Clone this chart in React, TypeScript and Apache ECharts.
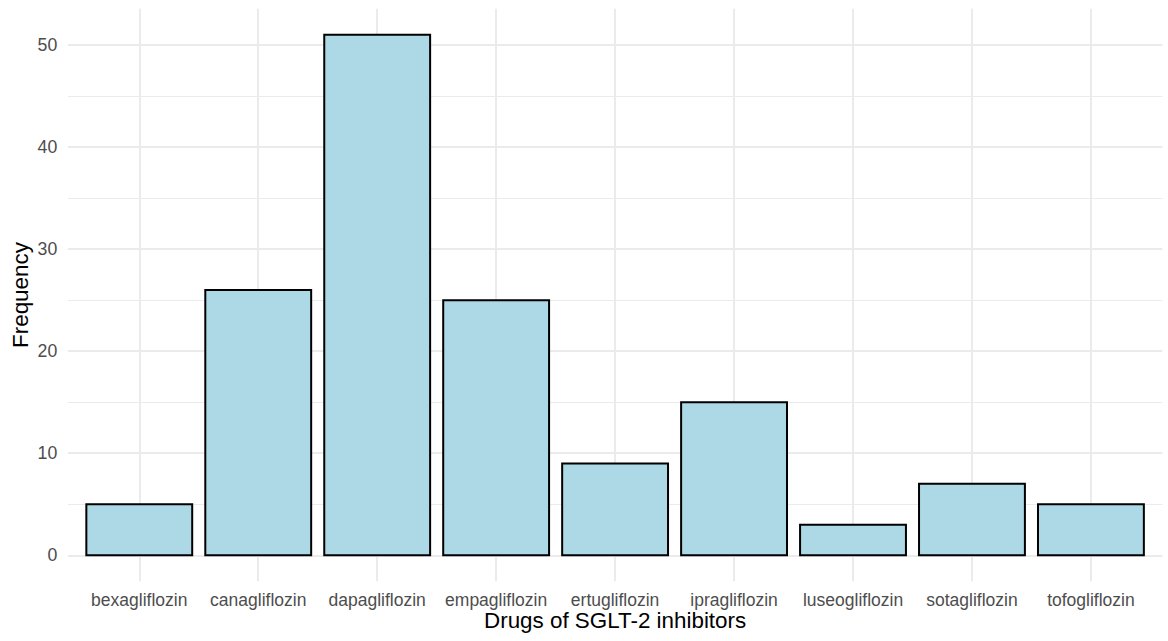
import React, { useEffect, useRef } from "react";
import * as echarts from "echarts";

const categories = [
  "bexagliflozin",
  "canagliflozin",
  "dapagliflozin",
  "empagliflozin",
  "ertugliflozin",
  "ipragliflozin",
  "luseogliflozin",
  "sotagliflozin",
  "tofogliflozin",
];
const frequencies = [5, 26, 51, 25, 9, 15, 3, 7, 5];
const yMin = -2.55;
const yMax = 53.55;
const xMin = -0.6;
const xMax = 8.6;

const GRID = "#EBEBEB";
const NONE = "rgba(0,0,0,0)";
const FONT = "'Liberation Sans', Arial, sans-serif";
const BAR_HALF = 0.445;

export default function App() {
  const ref = useRef<HTMLDivElement>(null);
  useEffect(() => {
    if (!ref.current) return;
    const chart = echarts.init(ref.current, null, { renderer: "svg" });
    const majorColors = [NONE, GRID, GRID, GRID, GRID, GRID, GRID, NONE];
    const minorColors = [NONE, NONE, GRID, NONE, GRID, NONE, GRID, NONE, GRID, NONE, GRID, NONE, NONE];
    const xColors = [NONE, GRID, GRID, GRID, GRID, GRID, GRID, GRID, GRID, GRID, NONE];
    const isInt = (v: number) => Math.abs(v - Math.round(v)) < 1e-9;
    chart.setOption({
      animation: false,
      textStyle: { fontFamily: FONT },
      grid: {
        left: 67.9,
        top: 8.8,
        width: 1094.4,
        height: 572.5,
        containLabel: false,
        outerBoundsMode: "none",
      },
      xAxis: {
        type: "value",
        min: xMin,
        max: xMax,
        minInterval: 1,
        maxInterval: 1,
        axisLine: { show: false },
        axisTick: { show: false },
        axisLabel: {
          color: "#4D4D4D",
          fontSize: 17.5,
          margin: 9.5,
          fontFamily: FONT,
          showMinLabel: false,
          showMaxLabel: false,
          hideOverlap: false,
          formatter: (v: number) => (isInt(v) ? categories[Math.round(v)] ?? "" : ""),
        },
        splitLine: { show: true, lineStyle: { color: xColors, width: 2 } },
        name: "Drugs of SGLT-2 inhibitors",
        nameLocation: "middle",
        nameGap: 28,
        nameMoveOverlap: false,
        nameTextStyle: { color: "#000", fontSize: 22.4, fontFamily: FONT },
      },
      yAxis: [
        {
          type: "value",
          position: "left",
          min: yMin,
          max: yMax,
          minInterval: 5,
          maxInterval: 5,
          axisLine: { show: false },
          axisTick: { show: false },
          axisLabel: { show: false },
          splitLine: { show: true, lineStyle: { color: minorColors, width: 1.2 } },
        },
        {
          type: "value",
          position: "left",
          min: yMin,
          max: yMax,
          minInterval: 10,
          maxInterval: 10,
          axisLine: { show: false },
          axisTick: { show: false },
          axisLabel: {
            color: "#4D4D4D",
            fontSize: 17.7,
            margin: 10.6,
            fontFamily: FONT,
            formatter: (v: number) => (Math.abs(v % 10) < 1e-9 ? String(v) : ""),
          },
          splitLine: { show: true, lineStyle: { color: majorColors, width: 2 } },
          name: "Frequency",
          nameLocation: "middle",
          nameRotate: 90,
          nameGap: 36,
          nameMoveOverlap: false,
          nameTextStyle: { color: "#000", fontSize: 22.4, fontFamily: FONT },
        },
      ],
      series: [
        {
          type: "custom",
          xAxisIndex: 0,
          yAxisIndex: 1,
          data: frequencies.map((f, i) => [i, f]),
          encode: { x: 0, y: 1 },
          renderItem: (_params: any, api: any) => {
            const x = api.value(0);
            const y = api.value(1);
            const p1 = api.coord([x - BAR_HALF, y]);
            const p2 = api.coord([x + BAR_HALF, 0]);
            return {
              type: "rect",
              shape: { x: p1[0], y: p1[1], width: p2[0] - p1[0], height: p2[1] - p1[1] },
              style: { fill: "#ADD8E6", stroke: "#000000", lineWidth: 2 },
            };
          },
        },
      ],
    });
    return () => chart.dispose();
  }, []);
  return <div ref={ref} style={{ width: 1168, height: 641, position: "absolute", left: 0, top: 0 }} />;
}
